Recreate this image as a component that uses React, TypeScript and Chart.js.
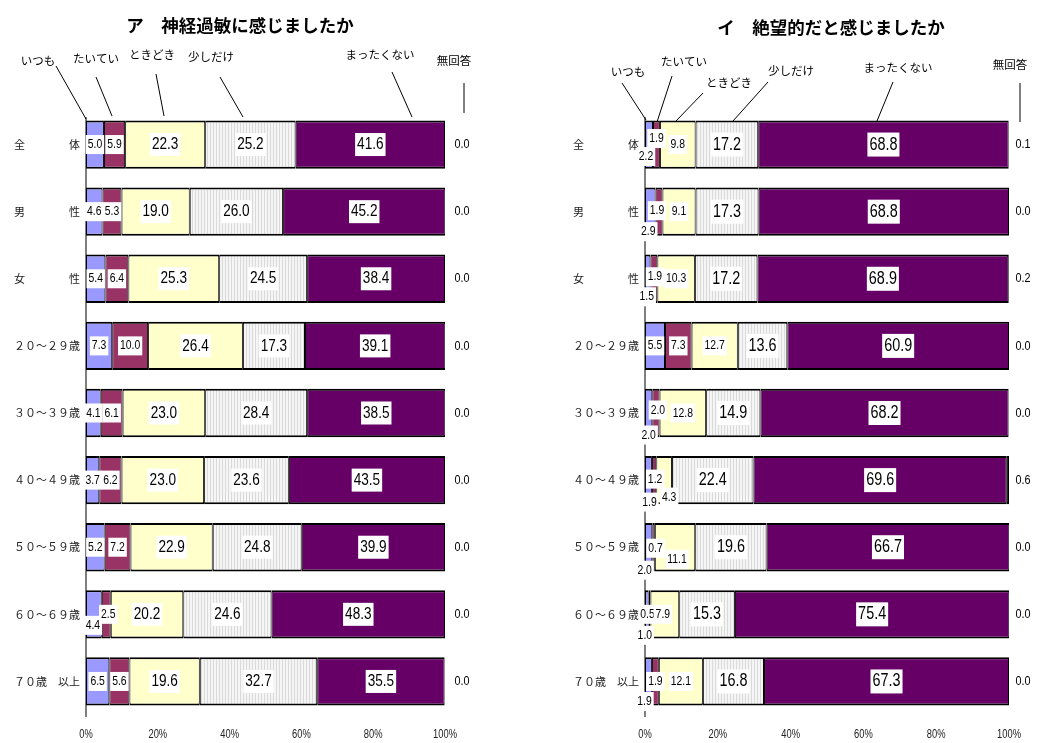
import React, { useEffect, useRef } from 'react';
import { Chart, registerables } from 'chart.js';

Chart.register(...registerables);

// Row labels (full-width, spaced as in the printed survey report)
const CATEGORIES = [
  '全　　　　体',
  '男　　　　性',
  '女　　　　性',
  '２０～２９歳',
  '３０～３９歳',
  '４０～４９歳',
  '５０～５９歳',
  '６０～６９歳',
  '７０歳　以上',
];

const SERIES_NAMES = ['いつも', 'たいてい', 'ときどき', '少しだけ', 'まったくない', '無回答'];
const PERCENT_TICKS = [0, 20, 40, 60, 80, 100];

// ア 神経過敏に感じましたか (%)
const NERV_ALWAYS = [5.0, 4.6, 5.4, 7.3, 4.1, 3.7, 5.2, 4.4, 6.5];
const NERV_MOSTLY = [5.9, 5.3, 6.4, 10.0, 6.1, 6.2, 7.2, 2.5, 5.6];
const NERV_SOMETIMES = [22.3, 19.0, 25.3, 26.4, 23.0, 23.0, 22.9, 20.2, 19.6];
const NERV_LITTLE = [25.2, 26.0, 24.5, 17.3, 28.4, 23.6, 24.8, 24.6, 32.7];
const NERV_NEVER = [41.6, 45.2, 38.4, 39.1, 38.5, 43.5, 39.9, 48.3, 35.5];
const NERV_NO_ANSWER = [0.0, 0.0, 0.0, 0.0, 0.0, 0.0, 0.0, 0.0, 0.0];

// イ 絶望的だと感じましたか (%)
const HOPE_ALWAYS = [2.2, 2.9, 1.5, 5.5, 2.0, 1.9, 2.0, 1.0, 1.9];
const HOPE_MOSTLY = [1.9, 1.9, 1.9, 7.3, 2.0, 1.2, 0.7, 0.5, 1.9];
const HOPE_SOMETIMES = [9.8, 9.1, 10.3, 12.7, 12.8, 4.3, 11.1, 7.9, 12.1];
const HOPE_LITTLE = [17.2, 17.3, 17.2, 13.6, 14.9, 22.4, 19.6, 15.3, 16.8];
const HOPE_NEVER = [68.8, 68.8, 68.9, 60.9, 68.2, 69.6, 66.7, 75.4, 67.3];
const HOPE_NO_ANSWER = [0.1, 0.0, 0.2, 0.0, 0.0, 0.6, 0.0, 0.0, 0.0];

const FILLS = ['#9999FF', '#993366', '#FFFFCC', null, '#660066', '#000000'];

const JP_FONT = '"Noto Sans CJK JP", "Noto Sans", sans-serif';
const NUM_FONT = '"Liberation Sans", Arial, sans-serif';
const NUM_SQUEEZE = 0.8;
const TICK_SQUEEZE = 0.72;

type Callout = { text: string; tx: number; ty: number; line: [number, number, number, number] };

type PanelSpec = {
  title: string;
  titleX: number;
  titleY: number;
  values: number[][];
  padding: { left: number; right: number; top: number; bottom: number };
  labelSizes: number[];
  noAnswerGap: number;
  callouts: Callout[];
  nudges: Record<string, [number, number]>;
};

const NERVOUS_PANEL: PanelSpec = {
  title: 'ア　神経過敏に感じましたか',
  titleX: 240,
  titleY: 25,
  values: [NERV_ALWAYS, NERV_MOSTLY, NERV_SOMETIMES, NERV_LITTLE, NERV_NEVER, NERV_NO_ANSWER],
  padding: { left: 86, right: 75, top: 111, bottom: 28 },
  labelSizes: [13, 13, 17, 17, 17],
  noAnswerGap: 17,
  callouts: [
    { text: 'いつも', tx: 38, ty: 61, line: [56, 66, 86, 119] },
    { text: 'たいてい', tx: 96, ty: 59, line: [96, 77, 112, 116] },
    { text: 'ときどき', tx: 152, ty: 55, line: [156, 74, 164, 116] },
    { text: '少しだけ', tx: 211, ty: 57, line: [220, 77, 243, 117] },
    { text: 'まったくない', tx: 380, ty: 55, line: [392, 72, 412, 117] },
    { text: '無回答', tx: 454, ty: 61, line: [464, 83, 464, 113] },
  ],
  nudges: {
    '7-0': [-1, 11],
    '7-1': [2, 0],
  },
};

const HOPELESS_PANEL: PanelSpec = {
  title: 'イ　絶望的だと感じましたか',
  titleX: 311,
  titleY: 27,
  values: [HOPE_ALWAYS, HOPE_MOSTLY, HOPE_SOMETIMES, HOPE_LITTLE, HOPE_NEVER, HOPE_NO_ANSWER],
  padding: { left: 125, right: 28, top: 111, bottom: 28 },
  labelSizes: [13, 13, 13, 18, 18],
  noAnswerGap: 14,
  callouts: [
    { text: 'いつも', tx: 108, ty: 72, line: [102, 83, 126, 120] },
    { text: 'たいてい', tx: 164, ty: 62, line: [152, 76, 137, 122] },
    { text: 'ときどき', tx: 209, ty: 83, line: [183, 93, 156, 121] },
    { text: '少しだけ', tx: 271, ty: 71, line: [248, 82, 213, 121] },
    { text: 'まったくない', tx: 378, ty: 68, line: [373, 82, 357, 121] },
    { text: '無回答', tx: 490, ty: 65, line: [500, 83, 500, 122] },
  ],
  // label offsets (px) for segments too narrow to hold their value
  nudges: {
    '0-0': [-3, 12], '0-1': [0, -6],
    '1-0': [-2, 20], '1-1': [-2, -1],
    '2-0': [-1, 18], '2-1': [1, -2],
    '4-0': [0, 22], '4-1': [2, -3],
    '5-0': [1, 22], '5-1': [1, -1], '5-2': [5, 17],
    '6-0': [-4, 23], '6-1': [2, 1], '6-2': [2, 12],
    '7-0': [-2, 21], '7-1': [-2, 0], '7-2': [-2, 0],
    '8-0': [-4, 20], '8-1': [0, 0],
  },
};

function stripePattern(): CanvasPattern | string {
  const tile = document.createElement('canvas');
  tile.width = 3;
  tile.height = 4;
  const c = tile.getContext('2d');
  if (!c) return '#ebebeb';
  c.fillStyle = '#f5f5f5';
  c.fillRect(0, 0, 3, 4);
  c.fillStyle = '#dadada';
  c.fillRect(0, 0, 1, 4);
  return c.createPattern(tile, 'repeat') || '#ebebeb';
}

function squeezedText(
  ctx: CanvasRenderingContext2D,
  text: string,
  x: number,
  y: number,
  size: number,
  squeeze: number,
  withBox: boolean,
  color = '#000'
) {
  ctx.font = `${size}px ${NUM_FONT}`;
  const w = ctx.measureText(text).width * squeeze;
  if (withBox) {
    const h = size + 6;
    ctx.fillStyle = '#ffffff';
    ctx.fillRect(x - w / 2 - 2, y - h / 2, w + 4, h);
  }
  ctx.save();
  ctx.translate(x, y);
  ctx.scale(squeeze, 1);
  ctx.fillStyle = color;
  ctx.textAlign = 'center';
  ctx.textBaseline = 'middle';
  ctx.fillText(text, 0, 0);
  ctx.restore();
}

function panelPlugin(spec: PanelSpec) {
  return {
    id: 'panelDecor',
    beforeDatasetsDraw(chart: any) {
      const { ctx, chartArea, scales } = chart;
      const x0 = scales.x.getPixelForValue(0);
      ctx.save();
      ctx.strokeStyle = '#555';
      ctx.lineWidth = 1.5;
      ctx.beginPath();
      ctx.moveTo(x0, chartArea.top + 6);
      ctx.lineTo(x0, chartArea.bottom + 2);
      ctx.stroke();
      ctx.restore();
    },
    afterDatasetsDraw(chart: any) {
      const { ctx, chartArea, scales } = chart;
      ctx.save();

      // title
      ctx.font = `bold 17.5px ${JP_FONT}`;
      ctx.fillStyle = '#000';
      ctx.textAlign = 'center';
      ctx.textBaseline = 'middle';
      ctx.fillText(spec.title, spec.titleX, spec.titleY);

      // series callouts
      ctx.font = `11.5px ${JP_FONT}`;
      ctx.strokeStyle = '#000';
      ctx.lineWidth = 1;
      spec.callouts.forEach((c) => {
        ctx.fillStyle = '#000';
        ctx.fillText(c.text, c.tx, c.ty);
        ctx.beginPath();
        ctx.moveTo(c.line[0], c.line[1]);
        ctx.lineTo(c.line[2], c.line[3]);
        ctx.stroke();
      });

      // row labels
      ctx.font = `11px ${JP_FONT}`;
      ctx.fillStyle = '#222';
      ctx.textAlign = 'right';
      CATEGORIES.forEach((label, i) => {
        ctx.fillText(label, chartArea.left - 6, scales.y.getPixelForValue(i));
      });

      // percent axis labels
      PERCENT_TICKS.forEach((t) => {
        squeezedText(ctx, `${t}%`, scales.x.getPixelForValue(t), chartArea.bottom + 19, 13, TICK_SQUEEZE, false, '#222');
      });

      // segment values
      for (let s = 0; s < 5; s++) {
        const meta = chart.getDatasetMeta(s);
        meta.data.forEach((bar: any, row: number) => {
          const { x, base, y } = bar.getProps(['x', 'base', 'y'], true);
          const nudge = spec.nudges[`${row}-${s}`] || [0, 0];
          const value = spec.values[s][row];
          squeezedText(ctx, value.toFixed(1), (x + base) / 2 + nudge[0], y + nudge[1], spec.labelSizes[s], NUM_SQUEEZE, true);
        });
      }

      // no-answer values beside each bar
      const naMeta = chart.getDatasetMeta(5);
      naMeta.data.forEach((bar: any, row: number) => {
        const { y } = bar.getProps(['y'], true);
        squeezedText(ctx, spec.values[5][row].toFixed(1), chartArea.right + spec.noAnswerGap, y, 13.5, NUM_SQUEEZE, false);
      });

      ctx.restore();
    },
  };
}

function buildConfig(spec: PanelSpec): any {
  const stripes = stripePattern();
  return {
    type: 'bar',
    data: {
      labels: CATEGORIES,
      datasets: spec.values.map((vals, i) => ({
        label: SERIES_NAMES[i],
        data: vals,
        backgroundColor: i === 3 ? stripes : FILLS[i],
        borderColor: '#000000',
        borderWidth: { top: 2, bottom: 2, left: 1, right: 1 },
        borderSkipped: false,
        categoryPercentage: 1,
        barPercentage: 0.72,
        stack: 'answers',
      })),
    },
    options: {
      indexAxis: 'y',
      responsive: false,
      animation: false,
      devicePixelRatio: 1,
      events: [],
      layout: { padding: spec.padding },
      plugins: {
        legend: { display: false },
        tooltip: { enabled: false },
        title: { display: false },
      },
      scales: {
        x: { type: 'linear', min: 0, max: 100, stacked: true, display: false },
        y: { stacked: true, display: false },
      },
    },
    plugins: [panelPlugin(spec)],
  };
}

export default function App() {
  const leftRef = useRef<HTMLCanvasElement>(null);
  const rightRef = useRef<HTMLCanvasElement>(null);

  useEffect(() => {
    if (!leftRef.current || !rightRef.current) return;
    const charts = [
      new Chart(leftRef.current, buildConfig(NERVOUS_PANEL)),
      new Chart(rightRef.current, buildConfig(HOPELESS_PANEL)),
    ];
    return () => charts.forEach((c) => c.destroy());
  }, []);

  return (
    <div style={{ position: 'absolute', left: 0, top: 0, width: 1037, height: 743, background: '#fff' }}>
      <canvas ref={leftRef} width={520} height={743} style={{ position: 'absolute', left: 0, top: 0, width: 520, height: 743 }} />
      <canvas ref={rightRef} width={517} height={743} style={{ position: 'absolute', left: 520, top: 0, width: 517, height: 743 }} />
    </div>
  );
}
